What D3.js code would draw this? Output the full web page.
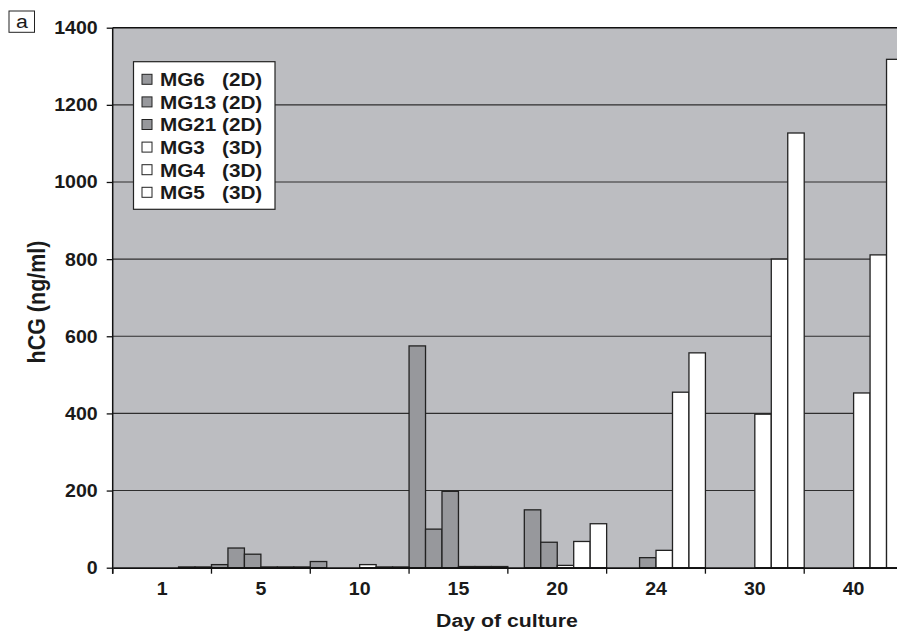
<!DOCTYPE html>
<html>
<head>
<meta charset="utf-8">
<script src="https://cdn.jsdelivr.net/npm/d3@7"></script>
<style>
  body { margin: 0; background: #fff; }
  svg text { font-family: "Liberation Sans", Arial, Helvetica, sans-serif; fill: #1a1a1a; }
</style>
</head>
<body>
<div id="chart"></div>
<script>
// data
var days = ["1", "5", "10", "15", "20", "24", "30", "40"];
var seriesNames = ["MG6", "MG13", "MG21", "MG3", "MG4", "MG5"];
var seriesTypes = ["(2D)", "(2D)", "(2D)", "(3D)", "(3D)", "(3D)"];
var MG6  = [0, 8, 16, 575, 0, 0, 0, 0];
var MG13 = [0, 51, 0, 100, 150, 0, 0, 0];
var MG21 = [0, 35, 0, 198, 66, 26, 0, 0];
var MG3  = [0, 2, 8, 3, 6, 45, 398, 453];
var MG4  = [2, 2, 2, 3, 68, 455, 800, 811];
var MG5  = [2, 2, 2, 3, 114, 557, 1127, 1318];
var yTicks = [0, 200, 400, 600, 800, 1000, 1200, 1400];

var allSeries = [MG6, MG13, MG21, MG3, MG4, MG5];
var fills = ["#97989c", "#97989c", "#97989c", "#ffffff", "#ffffff", "#ffffff"];
var SX = 1.12; // the figure's text is a little wide

var width = 897, height = 633;
var plotL = 112.7, plotR = 903, plotT = 27.7, plotB = 567.7;

var svg = d3.select("#chart").append("svg").attr("width", width).attr("height", height);

var x = d3.scaleBand().domain(days).range([plotL, plotR]).padding(0);
var xs = d3.scaleBand().domain(d3.range(seriesNames.length)).range([0, x.bandwidth()]).padding(0);
var y = d3.scaleLinear().domain([0, 1400]).range([plotB, plotT]);

// plot area
svg.append("rect").attr("x", plotL).attr("y", plotT)
  .attr("width", plotR - plotL).attr("height", plotB - plotT)
  .attr("fill", "#bcbdc1");

// gridlines
svg.append("g").selectAll("line").data(yTicks.filter(d => d > 0)).enter().append("line")
  .attr("x1", plotL).attr("x2", plotR)
  .attr("y1", d => y(d)).attr("y2", d => y(d))
  .attr("stroke", d => d == 1400 ? "#111" : "#2e2e2e").attr("stroke-width", d => d == 1400 ? 1.5 : 1.1);

// bars
var bars = [];
allSeries.forEach(function(vals, si) {
  vals.forEach(function(v, di) { bars.push({ s: si, day: days[di], v: v }); });
});
svg.append("g").selectAll("rect").data(bars.filter(d => d.v > 0)).enter().append("rect")
  .attr("x", d => x(d.day) + xs(d.s))
  .attr("y", d => y(d.v))
  .attr("width", xs.bandwidth())
  .attr("height", d => y(0) - y(d.v))
  .attr("fill", d => fills[d.s])
  .attr("stroke", "#222")
  .attr("stroke-width", 1.3);

// y axis
var yAxis = svg.append("g").attr("transform", `translate(${plotL},0)`)
  .call(d3.axisLeft(y).tickValues(yTicks).tickSize(6).tickSizeOuter(0).tickFormat(d3.format("d")));
yAxis.select(".domain").attr("stroke", "#111").attr("stroke-width", 1.5).attr("d", `M0,${plotT}V${plotB + 6}`);
yAxis.selectAll(".tick line").attr("stroke", "#111").attr("stroke-width", 1.3);
yAxis.selectAll(".tick text")
  .attr("x", -15 / SX).attr("dy", "0.34em")
  .attr("transform", `scale(${SX},1)`)
  .style("font-size", "17.5px").style("font-weight", "bold")
  .style("font-family", "'Liberation Sans', Arial, sans-serif").attr("fill", "#1a1a1a");

// x axis: labels at band centres, ticks at band edges
var xAxis = svg.append("g").attr("transform", `translate(0,${plotB})`)
  .call(d3.axisBottom(x).tickSize(0).tickSizeOuter(0));
xAxis.select(".domain").attr("stroke", "#111").attr("stroke-width", 1.8);
xAxis.selectAll(".tick text")
  .attr("y", 27.5).attr("dy", 0)
  .attr("transform", `scale(${SX},1)`)
  .style("font-size", "17.5px").style("font-weight", "bold")
  .style("font-family", "'Liberation Sans', Arial, sans-serif").attr("fill", "#1a1a1a");

var edges = days.map(d => x(d)).concat([x(days[days.length - 1]) + x.bandwidth()]);
svg.append("g").selectAll("line").data(edges).enter().append("line")
  .attr("x1", d => d).attr("x2", d => d)
  .attr("y1", plotB).attr("y2", plotB + 6)
  .attr("stroke", "#111").attr("stroke-width", 1.3);

// axis titles
svg.append("text")
  .attr("transform", `translate(507,627) scale(${SX},1)`)
  .attr("text-anchor", "middle")
  .style("font-size", "19px").style("font-weight", "bold")
  .text("Day of culture");

svg.append("text")
  .attr("transform", `translate(45,302) rotate(-90) scale(1,${SX})`)
  .attr("text-anchor", "middle")
  .style("font-size", "21.5px").style("font-weight", "bold")
  .text("hCG (ng/ml)");

// panel letter
svg.append("rect").attr("x", 9).attr("y", 11).attr("width", 25.5).attr("height", 21.3)
  .attr("fill", "#fff").attr("stroke", "#222").attr("stroke-width", 1);
svg.append("text")
  .attr("transform", `translate(21.8,28) scale(${SX},1)`)
  .attr("text-anchor", "middle")
  .style("font-size", "19px")
  .text("a");

// legend
var legend = svg.append("g");
legend.append("rect").attr("x", 133.5).attr("y", 61.7).attr("width", 141.5).attr("height", 147.6)
  .attr("fill", "#fff").attr("stroke", "#222").attr("stroke-width", 1.2);
var items = legend.selectAll("g.item").data(seriesNames).enter().append("g")
  .attr("class", "item")
  .attr("transform", (d, i) => `translate(0,${79.3 + i * 22.6})`);
items.append("rect").attr("x", 142).attr("y", -5).attr("width", 10).attr("height", 10)
  .attr("fill", (d, i) => fills[i]).attr("stroke", "#222").attr("stroke-width", 1);
items.append("text")
  .attr("transform", `translate(160,6.8) scale(${SX},1)`)
  .style("font-size", "18.5px").style("font-weight", "bold")
  .text(d => d);
items.append("text")
  .attr("transform", `translate(222,6.8) scale(${SX},1)`)
  .style("font-size", "18.5px").style("font-weight", "bold")
  .text((d, i) => seriesTypes[i]);
</script>
</body>
</html>
